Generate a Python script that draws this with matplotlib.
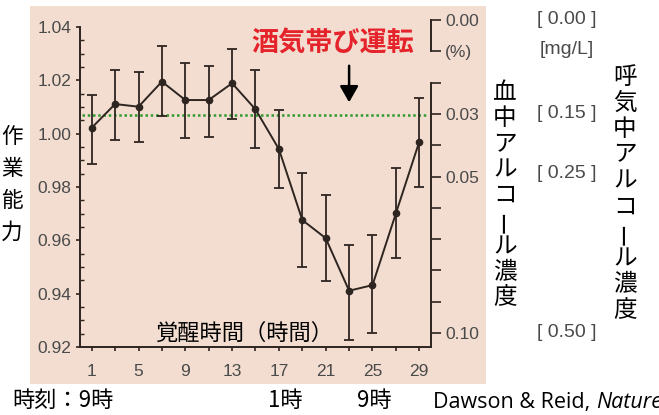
import matplotlib
matplotlib.use("Agg")
import matplotlib.pyplot as plt
from matplotlib.patches import Rectangle
from matplotlib.ticker import MultipleLocator, FixedLocator
import numpy as np

W, H = 659, 415
JP = ["Noto Sans CJK JP", "DejaVu Sans"]
NUM = ["Liberation Sans", "DejaVu Sans"]

# data
hours = [1, 3, 5, 7, 9, 11, 13, 15, 17, 19, 21, 23, 25, 27, 29]
perf = [1.0022, 1.0111, 1.0101, 1.0195, 1.0126, 1.0126, 1.0189, 1.0091,
        0.9942, 0.9676, 0.9608, 0.9411, 0.9432, 0.9701, 0.9970]
perf_hi = [1.0145, 1.0239, 1.0232, 1.0329, 1.0264, 1.0255, 1.0317, 1.0239,
           1.0089, 0.9851, 0.9770, 0.9582, 0.9620, 0.9871, 1.0133]
perf_lo = [0.9886, 0.9976, 0.9968, 1.0067, 0.9982, 0.9988, 1.0055, 0.9945,
           0.9797, 0.9501, 0.9447, 0.9226, 0.9251, 0.9533, 0.9801]
drunk_level = 1.007  # performance equal to 0.03 % blood alcohol

x_labels = [1, 5, 9, 13, 17, 21, 25, 29]
bac_ticks = [0.00, 0.01, 0.02, 0.03, 0.04, 0.05, 0.06, 0.07, 0.08, 0.09, 0.10]
bac_labels = {0.00: "0.00", 0.01: "(%)", 0.03: "0.03", 0.05: "0.05", 0.10: "0.10"}
breath_labels = ["[ 0.00 ]", "[mg/L]", "[ 0.15 ]", "[ 0.25 ]", "[ 0.50 ]"]

INK = "#2e2420"
GREY = "#4a4a4a"

fig = plt.figure(figsize=(W / 100, H / 100), dpi=100)
fig.patch.set_facecolor("white")

# peach panel behind the plot
fig.patches.append(Rectangle((30 / W, 1 - 384 / H), 456 / W, 378 / H,
                             transform=fig.transFigure, facecolor="#f2ddd0",
                             edgecolor="none", zorder=-5))

ax = fig.add_axes([80 / W, 1 - 347 / H, 351 / W, 327 / H])
ax.set_facecolor("none")
ax.set_xlim(0, 30)
ax.set_ylim(0.92, 0.92 + 327 / 2667)

yerr = [np.array(perf) - np.array(perf_lo), np.array(perf_hi) - np.array(perf)]
ax.errorbar(hours, perf, yerr=yerr, color=INK, lw=1.4, marker="o", ms=4.5,
            elinewidth=1.3, capsize=3.5, capthick=1.3, zorder=3)
ax.axhline(drunk_level, xmin=0.005, xmax=0.985, color="#2e9a2e", lw=1.8,
           ls=(0, (1, 1.1)), zorder=2)

for s in ["top", "right"]:
    ax.spines[s].set_visible(False)
for s in ["left", "bottom"]:
    ax.spines[s].set_color(INK)
    ax.spines[s].set_linewidth(1.4)
ax.spines["left"].set_bounds(0.92, 1.04)

ax.yaxis.set_major_locator(FixedLocator([0.92, 0.94, 0.96, 0.98, 1.00, 1.02, 1.04]))
ax.yaxis.set_minor_locator(MultipleLocator(0.005))
ax.set_yticklabels(["0.92", "0.94", "0.96", "0.98", "1.00", "1.02", "1.04"])
ax.xaxis.set_major_locator(FixedLocator(x_labels))
ax.xaxis.set_minor_locator(FixedLocator(hours))
ax.set_xticklabels([str(v) for v in x_labels])
ax.tick_params(axis="y", which="major", direction="out", length=3, width=1.2,
               color=INK, labelsize=12.5, labelcolor=GREY, pad=3)
ax.tick_params(axis="y", which="minor", direction="in", length=3, width=1.0, color=INK)
ax.tick_params(axis="x", which="both", direction="out", length=3, width=1.2,
               color=INK, labelsize=12.5, labelcolor=GREY, pad=9)
for lab in ax.get_xticklabels() + ax.get_yticklabels():
    lab.set_family(NUM)

# blood alcohol axis on the right
ax2 = ax.twinx()
ax2.set_ylim(327 / 3130, 0)
for s in ["top", "left", "bottom"]:
    ax2.spines[s].set_visible(False)
ax2.spines["right"].set_color(INK)
ax2.spines["right"].set_linewidth(1.4)
ax2.spines["right"].set_bounds(0.02, 327 / 3130)
ax2.plot([1, 1], [0.0, 0.01], color=INK, lw=1.4, transform=ax2.get_yaxis_transform(),
         clip_on=False)
ax2.yaxis.set_major_locator(FixedLocator(bac_ticks))
ax2.set_yticklabels([bac_labels.get(round(v, 2), "") for v in bac_ticks])
ax2.tick_params(axis="y", direction="out", length=7, width=1.2, color=INK,
                labelsize=12.5, labelcolor=GREY, pad=3)
for lab in ax2.get_yticklabels():
    lab.set_family(NUM)

# annotations inside the panel
ax.text(21.6, 1.034, "酒気帯び運転", color="#e5232b", fontsize=19.5, fontweight="bold",
        family=JP, ha="center", va="center")
ax.annotate("", xy=(23, 1.0107), xytext=(23, 1.0265),
            arrowprops=dict(arrowstyle="-|>,head_length=0.7,head_width=0.4",
                            color="black", lw=1.8, mutation_scale=14))
ax.text(14.0, 0.9250, "覚醒時間（時間）", color="black", fontsize=16, family=JP,
        ha="center", va="center")


def vtext(x, y0, step, s, **kw):
    for i, ch in enumerate(s):
        rot = 90 if ch == "ー" else 0
        fig.text(x / W, 1 - (y0 + i * step) / H, ch, ha="center", va="center",
                 rotation=rot, family=JP, **kw)


vtext(12, 137, 32, "作業能力", fontsize=15.5, color="black")
vtext(505, 93, 25.6, "血中アルコール濃度", fontsize=17, color="black")
vtext(625, 77, 26, "呼気中アルコール濃度", fontsize=17, color="black")

for lab, yp in zip(breath_labels, [20, 50, 113, 173, 332]):
    fig.text(567 / W, 1 - yp / H, lab, ha="center", va="center", fontsize=14,
             color=GREY, family=NUM)

fig.text(63 / W, 1 - 400 / H, "時刻：9時", ha="center", va="center", fontsize=16,
         family=JP, color="black")
fig.text(285 / W, 1 - 400 / H, "1時", ha="center", va="center", fontsize=16,
         family=JP, color="black")
fig.text(374 / W, 1 - 400 / H, "9時", ha="center", va="center", fontsize=16,
         family=JP, color="black")
t = fig.text(433 / W, 1 - 402 / H, "Dawson & Reid, ", ha="left", va="center",
             fontsize=15.5, family=["Open Sans", "DejaVu Sans"], color="black")
fig.canvas.draw()
bb = t.get_window_extent()
fig.text(bb.x1 / W, 1 - 402 / H, "Nature", ha="left", va="center", fontsize=15.5,
         style="italic", family=["Open Sans", "DejaVu Sans"], color="black")

fig.savefig("out.png", dpi=100)
